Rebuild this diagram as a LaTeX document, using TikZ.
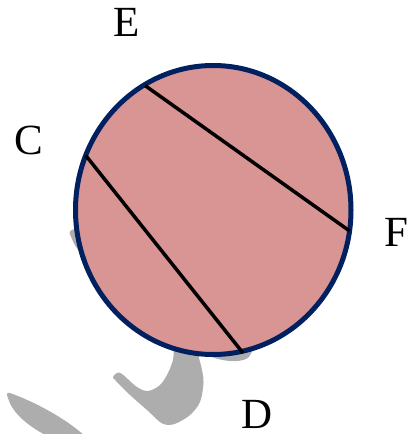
\documentclass[tikz,border=0pt]{standalone}
\usepackage{fontspec}
\setmainfont{Liberation Serif}
\definecolor{pinkfill}{HTML}{D99494}
\definecolor{navyline}{HTML}{002060}
\definecolor{shadowgray}{HTML}{ADADAD}
\begin{document}
\begin{tikzpicture}[x=1pt,y=-1pt,
  blob/.style={fill=shadowgray,draw=none},
  disc/.style={fill=pinkfill,draw=navyline,line width=5pt},
  chord/.style={draw=black,line width=3.5pt},
  lab/.style={inner sep=0pt,font=\fontsize{43}{50}\selectfont}]
\useasboundingbox (0,0) rectangle (411,434);
% gray shapes behind the disc
\fill[blob] (47,436) .. controls (25,424) and (12,412) .. (8,398)
  .. controls (6,394) and (7,392) .. (10,393)
  .. controls (35,402) and (65,418) .. (85,436) -- cycle;
\fill[blob] plot[smooth cycle, tension=0.55] coordinates {
  (113,377) (117,373) (122,374) (137,387) (148,391) (160,385) (168,373)
  (173,360) (176,345) (196,345) (199,358) (202,370) (203.5,383) (200,402)
  (190,415) (177,423) (168,425) (160,422) (147,410) (130,395) (116,381)};
\fill[blob] (210,350) -- (254,348) -- (249,357)
  .. controls (244,362) and (228,363) .. (212,357) -- cycle;
\fill[blob] (69.5,233) .. controls (70,231) and (71,229.5) .. (73,229.5)
  -- (82,229) -- (84,252) -- (77.5,249) .. controls (74,244) .. (69.5,233) -- cycle;
% disc
\draw[disc] (213.25,210) ellipse [x radius=137.75pt, y radius=144.5pt];
\coordinate (E) at (145,85.5);
\coordinate (F) at (349.5,230.9);
\coordinate (C) at (85.7,155.4);
\coordinate (D) at (243,353);
\draw[chord] (E) -- (F);
\draw[chord] (C) -- (D);
% labels
\node[lab] (labE) at (126.5,22.5) {E};
\node[lab] (labC) at (29,140) {C};
\node[lab] (labF) at (396,232.5) {F};
\node[lab] (labD) at (257.5,414) {D};
\end{tikzpicture}
\end{document}
